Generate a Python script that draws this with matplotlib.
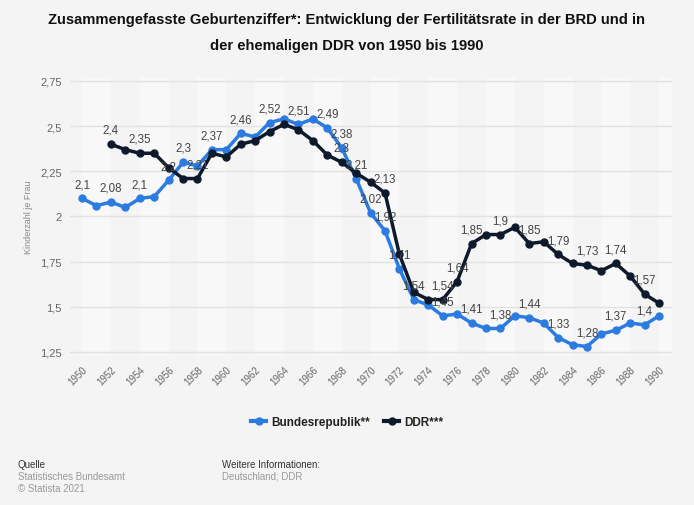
import matplotlib
matplotlib.use("Agg")
import matplotlib.pyplot as plt
from matplotlib.lines import Line2D

plt.rcParams['font.family'] = ['Liberation Sans', 'DejaVu Sans']

years_brd = list(range(1950, 1991))
brd = [2.10, 2.06, 2.08, 2.05, 2.10, 2.11, 2.20, 2.30, 2.28, 2.37,
       2.37, 2.46, 2.44, 2.52, 2.54, 2.51, 2.54, 2.49, 2.38, 2.21,
       2.02, 1.92, 1.71, 1.54, 1.51, 1.45, 1.46, 1.41, 1.38, 1.38,
       1.45, 1.44, 1.41, 1.33, 1.29, 1.28, 1.35, 1.37, 1.41, 1.40,
       1.45]

years_ddr = list(range(1952, 1991))
ddr = [2.40, 2.37, 2.35, 2.35, 2.27, 2.21, 2.21, 2.35, 2.33, 2.40,
       2.42, 2.47, 2.51, 2.48, 2.42, 2.34, 2.30, 2.24, 2.19, 2.13,
       1.79, 1.58, 1.54, 1.54, 1.64, 1.85, 1.90, 1.90, 1.94, 1.85,
       1.86, 1.79, 1.74, 1.73, 1.70, 1.74, 1.67, 1.57, 1.52]

# years whose value label is visible in the original
labels_brd = [1950, 1952, 1954, 1956, 1957, 1959, 1961, 1963, 1965, 1967,
              1968, 1969, 1970, 1971, 1972, 1973, 1975, 1977, 1979, 1981,
              1983, 1985, 1987, 1989]
labels_ddr = [1952, 1954, 1958, 1968, 1971, 1975, 1976, 1977, 1979, 1981,
              1983, 1985, 1987, 1989]

x_ticks = list(range(1950, 1991, 2))
y_ticks = [1.25, 1.5, 1.75, 2.0, 2.25, 2.5, 2.75]

BLUE = '#2b7be0'
NAVY = '#0e1a2b'
BG = '#f4f4f4'


def fmt(v):
    s = ('%.2f' % v).rstrip('0').rstrip('.')
    return s.replace('.', ',')


fig = plt.figure(figsize=(6.94, 5.06), dpi=100, facecolor=BG)
ax = fig.add_axes([0.101, 0.2953, 0.8674, 0.5498])
ax.set_facecolor(BG)

for start in range(1950, 1991, 4):
    ax.axvspan(start, start + 2, color='#f8f8f8', zorder=0, lw=0)

for yv in y_ticks:
    ax.axhline(yv, color='#e2e2e2', lw=1, zorder=1)

ax.plot(years_brd, brd, color=BLUE, lw=2.5, marker='o', ms=5, zorder=3)
ax.plot(years_ddr, ddr, color=NAVY, lw=2.5, marker='o', ms=5, zorder=4)

for yr in labels_brd:
    v = brd[years_brd.index(yr)]
    ax.annotate(fmt(v), (yr, v), xytext=(0, 6), textcoords='offset points',
                ha='center', va='bottom', fontsize=8.3, color='#444444', zorder=5)
for yr in labels_ddr:
    v = ddr[years_ddr.index(yr)]
    ax.annotate(fmt(v), (yr, v), xytext=(0, 6), textcoords='offset points',
                ha='center', va='bottom', fontsize=8.3, color='#444444', zorder=5)

ax.set_xlim(1949.17, 1990.9)
ax.set_ylim(1.23, 2.77)
ax.set_xticks(x_ticks)
ax.set_xticklabels([str(x) for x in x_ticks], rotation=45, ha='right',
                   rotation_mode='anchor', fontsize=7, color='#666666')
ax.set_yticks(y_ticks)
ax.set_yticklabels([fmt(v) for v in y_ticks], fontsize=8, color='#666666')
ax.tick_params(length=0, axis='y', pad=6)
ax.tick_params(length=0, axis='x', pad=6)
for s in ax.spines.values():
    s.set_visible(False)
ax.set_ylabel('Kinderzahl je Frau', fontsize=6.5, color='#888888', labelpad=5)

fig.text(0.5, 0.96, 'Zusammengefasste Geburtenziffer*: Entwicklung der Fertilitätsrate in der BRD und in',
         ha='center', va='center', fontsize=10.6, fontweight='bold', color='#111111')
fig.text(0.5, 0.909, 'der ehemaligen DDR von 1950 bis 1990',
         ha='center', va='center', fontsize=10.6, fontweight='bold', color='#111111')

handles = [Line2D([], [], color=BLUE, lw=3, marker='o', ms=5),
           Line2D([], [], color=NAVY, lw=3, marker='o', ms=5)]
leg = fig.legend(handles, ['Bundesrepublik**', 'DDR***'], loc='center',
                 bbox_to_anchor=(0.5, 1 - 423 / 506), ncol=2, frameon=False,
                 handlelength=1.3, handletextpad=0.4, columnspacing=1.2,
                 prop={'weight': 'bold', 'size': 8.5})
for t in leg.get_texts():
    t.set_color('#222222')

fig.text(18 / 694, 1 - 465 / 506, 'Quelle', fontsize=7, color='#333333', va='center')
fig.text(18 / 694, 1 - 477 / 506, 'Statistisches Bundesamt', fontsize=7, color='#999999', va='center')
fig.text(18 / 694, 1 - 489 / 506, '© Statista 2021', fontsize=7, color='#999999', va='center')
fig.text(222 / 694, 1 - 465 / 506, 'Weitere Informationen:', fontsize=7, color='#333333', va='center')
fig.text(222 / 694, 1 - 477 / 506, 'Deutschland; DDR', fontsize=7, color='#999999', va='center')

fig.savefig('out.png', dpi=100, facecolor=BG)
